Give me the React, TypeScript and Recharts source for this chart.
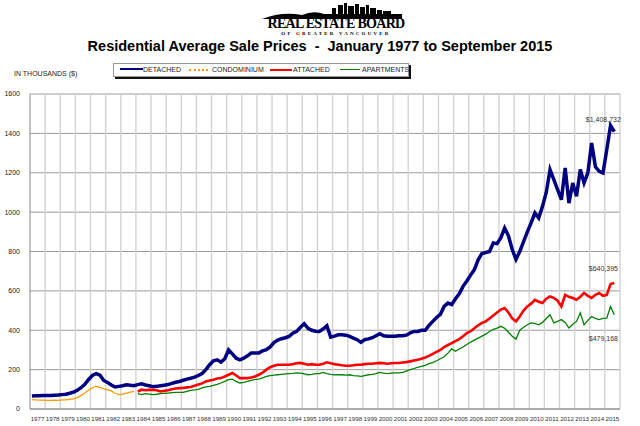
import React from 'react';
import { LineChart, Line, XAxis, YAxis, CartesianGrid, ReferenceLine, ReferenceDot } from 'recharts';

// quarterly averages, in thousands of dollars
const detachedStart = 1977;
const detached = [
  66, 67, 67, 68, // 1977
  68, 69, 70, 71,
  73, 75, 80, 86,
  95, 108, 125, 150, // 1980
  170, 180, 172, 145,
  135, 122, 112, 115,
  118, 123, 121, 118,
  124, 128, 122, 118,
  113, 115, 118, 121, // 1985
  124, 130, 136, 140,
  146, 152, 156, 162,
  170, 180, 200, 225,
  245, 250, 238, 255,
  300, 280, 258, 250, // 1990
  258, 270, 285, 285,
  285, 295, 301, 315,
  337, 350, 357, 362,
  369, 385, 394, 415,
  433, 410, 400, 395, // 1995
  394, 406, 423, 365,
  370, 377, 377, 375,
  369, 360, 352, 338,
  352, 356, 362, 372,
  382, 372, 369, 370, // 2000
  369, 372, 372, 375,
  386, 394, 394, 400,
  400, 425, 445, 465,
  480, 521, 538, 530,
  560, 585, 623, 650, // 2005
  680, 708, 758, 790,
  795, 800, 843, 840,
  870, 919, 880, 810,
  760, 800, 850, 900,
  945, 996, 970, 1029, // 2010
  1100, 1216, 1165, 1114,
  1063, 1224, 1046, 1148,
  1080, 1216, 1148, 1199,
  1351, 1230, 1207, 1199,
  1317, 1440, 1409, // 2015
];

const condoStart = 1977;
const condominium = [
  48, 46, 45, 45, // 1977
  44, 44, 45, 44,
  46, 47, 49, 51,
  58, 68, 81, 95, // 1980
  108, 115, 110, 102,
  97, 92, 80, 73,
  76, 81, 86, 89,
];

const attachedStart = 1984;
const attached = [
  89, 98, 95, 97, // 1984
  98, 95, 89, 92,
  95, 100, 104, 106,
  107, 110, 112, 118,
  124, 130, 140, 145,
  149, 155, 157, 165,
  174, 183, 170, 157, // 1990
  157, 157, 160, 165,
  174, 185, 200, 212,
  220, 225, 225, 225,
  225, 228, 232, 234,
  230, 225, 228, 225, // 1995
  225, 230, 237, 232,
  228, 225, 222, 220,
  220, 222, 225, 225,
  228, 230, 230, 232,
  234, 232, 230, 232, // 2000
  234, 234, 236, 238,
  242, 246, 250, 255,
  262, 270, 280, 290,
  300, 315, 325, 335,
  345, 355, 370, 385, // 2005
  395, 410, 425, 437,
  445, 460, 475, 490,
  505, 513, 490, 460,
  445, 470, 500, 521,
  535, 555, 545, 538, // 2010
  560, 572, 564, 550,
  521, 580, 570, 564,
  555, 570, 589, 575,
  564, 580, 589, 575,
  580, 635, 640, // 2015
];

const apartmentsStart = 1984;
const apartments = [
  78, 73, 78, 76, // 1984
  73, 75, 78, 79,
  81, 83, 84, 84,
  84, 90, 95, 97,
  100, 107, 112, 115,
  120, 125, 132, 140,
  149, 152, 140, 132, // 1990
  135, 140, 145, 150,
  152, 158, 166, 170,
  172, 174, 176, 178,
  180, 181, 183, 182,
  178, 174, 176, 180, // 1995
  180, 186, 180, 176,
  174, 174, 174, 172,
  174, 170, 168, 166,
  170, 174, 176, 180,
  186, 182, 180, 182, // 2000
  183, 183, 186, 192,
  200, 205, 212, 216,
  222, 230, 236, 245,
  255, 265, 284, 305,
  293, 305, 315, 328, // 2005
  340, 350, 360, 370,
  380, 394, 405, 411,
  420, 410, 390, 370,
  355, 400, 415, 428,
  437, 435, 428, 440, // 2010
  460, 479, 437, 445,
  454, 440, 411, 430,
  445, 488, 428, 450,
  470, 460, 454, 460,
  462, 521, 479, // 2015
];

const years = [
  1977, 1978, 1979, 1980, 1981, 1982, 1983, 1984, 1985, 1986,
  1987, 1988, 1989, 1990, 1991, 1992, 1993, 1994, 1995, 1996,
  1997, 1998, 1999, 2000, 2001, 2002, 2003, 2004, 2005, 2006,
  2007, 2008, 2009, 2010, 2011, 2012, 2013, 2014, 2015,
];
const yTicks = [0, 200, 400, 600, 800, 1000, 1200, 1400, 1600];

const series = [
  { key: 'detached', name: 'DETACHED', color: '#000080', width: 3.5, values: detached, start: detachedStart },
  { key: 'condo', name: 'CONDOMINIUM', color: '#ff9900', width: 1.3, values: condominium, start: condoStart },
  { key: 'attached', name: 'ATTACHED', color: '#ff0000', width: 2.6, values: attached, start: attachedStart },
  { key: 'apartments', name: 'APARTMENTS', color: '#008000', width: 1.3, values: apartments, start: apartmentsStart },
];

// one row per quarter, x sits in the middle of the quarter
const table: any[] = [];
for (let i = 0; i < detached.length; i++) {
  const t = detachedStart + (i + 0.5) / 4;
  const row: any = { t };
  series.forEach((s) => {
    const j = i - (s.start - detachedStart) * 4;
    row[s.key] = j >= 0 && j < s.values.length ? s.values[j] : null;
  });
  table.push(row);
}

const lastOf = (arr: number[]) => arr[arr.length - 1];

const font = '"Liberation Sans", Arial, sans-serif';
const serif = '"Liberation Serif", "Times New Roman", serif';

const Skyline = () => (
  <svg width={140} height={18} style={{ position: 'absolute', left: 262, top: 2 }}>
    <path d="M0 17 Q20 9 40 13 Q52 8 62 12 L140 12 L140 17 Z" fill="#000" />
    <rect x={70} y={6} width={4} height={8} fill="#000" />
    <rect x={76} y={3} width={5} height={11} fill="#000" />
    <rect x={82} y={1} width={3} height={13} fill="#000" />
    <rect x={86} y={4} width={6} height={10} fill="#000" />
    <rect x={93} y={2} width={4} height={12} fill="#000" />
    <rect x={98} y={5} width={5} height={9} fill="#000" />
    <rect x={104} y={3} width={3} height={11} fill="#000" />
    <rect x={108} y={6} width={6} height={8} fill="#000" />
    <rect x={115} y={8} width={5} height={6} fill="#000" />
    <rect x={121} y={9} width={8} height={5} fill="#000" />
  </svg>
);

const legendItems = [
  { lineLeft: 120, lineWidth: 23, textLeft: 143, dashed: false },
  { lineLeft: 189, lineWidth: 19, textLeft: 212, dashed: true },
  { lineLeft: 270, lineWidth: 22, textLeft: 293, dashed: false },
  { lineLeft: 340, lineWidth: 20, textLeft: 362, dashed: false },
];

export default function App() {
  return (
    <div style={{ position: 'absolute', left: 0, top: 0, width: 640, height: 426, background: '#fff', fontFamily: font }}>
      <Skyline />
      <div style={{ position: 'absolute', left: 236, top: 17, width: 200, textAlign: 'center', fontFamily: serif, fontWeight: 'bold', fontSize: 14, letterSpacing: -0.7, whiteSpace: 'nowrap', lineHeight: '14px', color: '#000' }}>
        REAL ESTATE BOARD
      </div>
      <div style={{ position: 'absolute', left: 236, top: 31, width: 200, textAlign: 'center', fontFamily: serif, fontWeight: 'bold', fontSize: 5, letterSpacing: 2.2, whiteSpace: 'nowrap', lineHeight: '6px', color: '#000' }}>
        OF GREATER VANCOUVER
      </div>
      <div style={{ position: 'absolute', left: 0, top: 38, width: 640, textAlign: 'center', fontWeight: 'bold', fontSize: 14.5, lineHeight: '17px', color: '#000', whiteSpace: 'pre' }}>
        {'Residential Average Sale Prices  -  January 1977 to September 2015'}
      </div>
      <div style={{ position: 'absolute', left: 14, top: 70, fontSize: 7, color: '#222' }}>IN THOUSANDS ($)</div>

      {/* legend */}
      <div style={{ position: 'absolute', left: 113, top: 63, width: 294, height: 12, border: '1px solid #999', boxShadow: '2px 2px 0 #111', background: '#fff' }} />
      {series.map((s, i) => {
        const it = legendItems[i];
        return (
          <React.Fragment key={s.key}>
            <div style={{
              position: 'absolute', left: it.lineLeft, top: it.dashed ? 69 : 70 - s.width / 2, width: it.lineWidth, height: 0,
              borderTop: it.dashed ? `2px dotted ${s.color}` : `${Math.max(s.width * 0.8, 1.5)}px solid ${s.color}`,
            }} />
            <div style={{ position: 'absolute', left: it.textLeft, top: 65, fontSize: 7, lineHeight: '9px', color: '#222' }}>{s.name}</div>
          </React.Fragment>
        );
      })}

      <div style={{ position: 'absolute', left: 0, top: 0 }}>
        <LineChart width={640} height={426} data={table} margin={{ top: 94, right: 20, bottom: 0, left: 0 }}>
          <CartesianGrid vertical={false} stroke="#9a9a9a" strokeWidth={1} />
          {years.slice(1).concat([2016]).map((y) => (
            <ReferenceLine key={y} x={y} stroke="#d2d2d2" strokeWidth={1.4} />
          ))}
          <XAxis
            type="number"
            dataKey="t"
            domain={[1977, 2016]}
            ticks={years.map((y) => y + 0.5)}
            tickFormatter={(v: number) => String(Math.floor(v))}
            interval={0}
            height={17}
            stroke="#888"
            tickLine={false}
            tick={{ fontSize: 6.2, fill: '#333', fontFamily: font }}
            tickMargin={2}
          />
          <YAxis
            type="number"
            domain={[0, 1600]}
            ticks={yTicks}
            width={30}
            stroke="#888"
            tickLine={false}
            tick={{ fontSize: 7, fill: '#222', fontFamily: font }}
            tickMargin={4}
          />
          {series.map((s) => (
            <Line
              key={s.key}
              type="linear"
              dataKey={s.key}
              stroke={s.color}
              strokeWidth={s.width}
              dot={false}
              connectNulls={false}
              isAnimationActive={false}
            />
          ))}
          <ReferenceDot x={2014.9} y={lastOf(detached)} r={0} fill="none" stroke="none"
            label={{ value: '$1,408,732', position: 'top', offset: 10, fontSize: 7, fill: '#333', fontFamily: font }} />
          <ReferenceDot x={2014.9} y={lastOf(attached)} r={0} fill="none" stroke="none"
            label={{ value: '$640,395', position: 'top', offset: 12, fontSize: 7, fill: '#333', fontFamily: font }} />
          <ReferenceDot x={2014.9} y={lastOf(apartments)} r={0} fill="none" stroke="none"
            label={{ value: '$479,168', position: 'bottom', offset: 21, fontSize: 7, fill: '#333', fontFamily: font }} />
        </LineChart>
      </div>
    </div>
  );
}
